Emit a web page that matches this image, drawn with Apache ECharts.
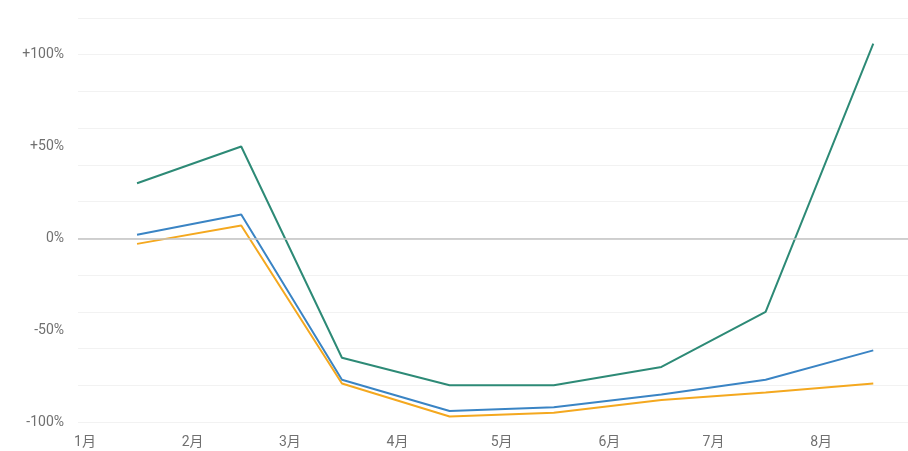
<!DOCTYPE html>
<html>
<head>
<meta charset="utf-8">
<script src="https://cdn.jsdelivr.net/npm/echarts@6/dist/echarts.min.js"></script>
<style>html,body{margin:0;padding:0;background:#fff}#c{width:908px;height:451px}</style>
</head>
<body>
<div id="c"></div>
<script>
// Data
const pointDates = ['2023-01-16','2023-02-15','2023-03-16','2023-04-16','2023-05-16','2023-06-16','2023-07-16','2023-08-16'];
const greenValues = [30, 50, -65, -80, -80, -70, -40, 106];
const blueValues = [2, 13, -77, -94, -92, -85, -77, -61];
const orangeValues = [-3, 7, -79, -97, -95, -88, -84, -79];
const yLabelValues = [-100, -50, 0, 50, 100];

function ts(s){ const p = s.split('-').map(Number); return new Date(p[0], p[1]-1, p[2]).getTime(); }
function pairs(vals){ return pointDates.map((d,i)=>[ts(d), vals[i]]); }

const chart = echarts.init(document.getElementById('c'));
const lineBase = { type:'line', symbol:'none', smooth:false, silent:true };
chart.setOption({
  animation:false,
  grid:{ left:78, right:0, top:18, bottom:29, containLabel:false },
  xAxis:{
    type:'time',
    min: ts('2022-12-30'),
    max: ts('2023-08-26'),
    splitNumber: 8,
    axisLine:{ show:false },
    axisTick:{ show:false },
    splitLine:{ show:false },
    axisLabel:{
      showMinLabel:false, showMaxLabel:false,
      formatter: v => (new Date(v).getMonth()+1) + '月',
      color:'#707070', fontSize:14, fontFamily:'Roboto, "Noto Sans CJK SC"', margin:14
    }
  },
  yAxis:{
    type:'value', min:-100, max:120, interval:20,
    axisLine:{ show:false }, axisTick:{ show:false },
    splitLine:{ show:true, lineStyle:{ color:'#f2f2f2', width:1 } },
    axisLabel:{
      customValues: yLabelValues,
      formatter: v => (v>0 ? '+' : '') + v + '%',
      color:'#707070', fontSize:14, fontFamily:'Roboto', margin:14, padding:[3,0,0,0]
    }
  },
  series:[
    Object.assign({}, lineBase, { name:'green', data:pairs(greenValues), lineStyle:{ color:'#2d8a76', width:2 }, itemStyle:{color:'#2d8a76'},
      markLine:{ silent:true, symbol:'none', label:{show:false}, lineStyle:{ color:'#c2c2c2', type:'solid', width:1.5 }, data:[{ yAxis:0 }] } }),
    Object.assign({}, lineBase, { name:'blue', data:pairs(blueValues), lineStyle:{ color:'#3a84c4', width:2 }, itemStyle:{color:'#3a84c4'} }),
    Object.assign({}, lineBase, { name:'orange', data:pairs(orangeValues), lineStyle:{ color:'#f4a81f', width:2 }, itemStyle:{color:'#f4a81f'} })
  ]
});
</script>
</body>
</html>
